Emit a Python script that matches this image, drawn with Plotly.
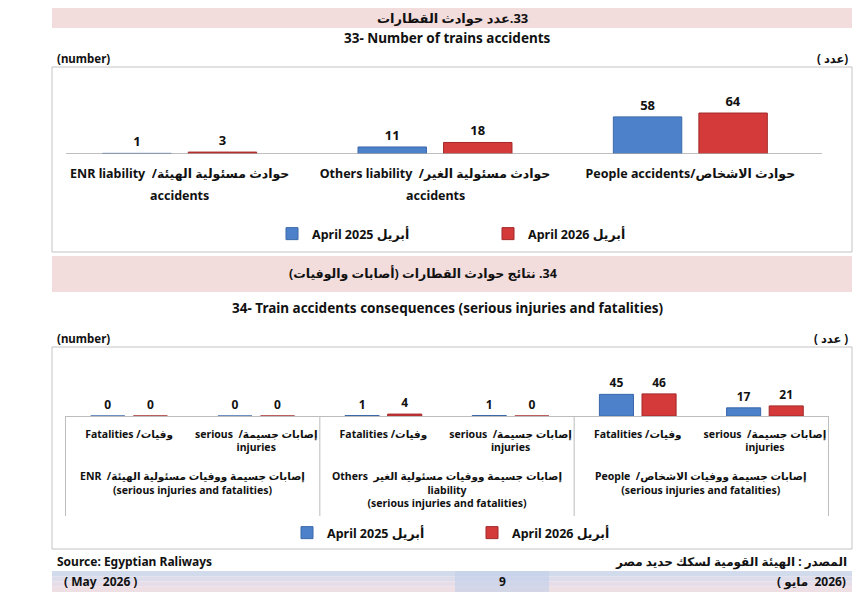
import plotly.graph_objects as go

# chart 33 - number of trains accidents
cats1 = ["enr", "others", "people"]
labels1 = ["ENR liability  /حوادث مسئولية الهيئة",
           "Others liability  /حوادث مسئولية الغير",
           "People accidents/حوادث الاشخاص"]
labels1_line2 = ["accidents", "accidents", ""]
apr2025_acc = [1, 11, 58]
apr2026_acc = [3, 18, 64]

# chart 34 - consequences (serious injuries and fatalities)
cats2 = ["enr_fat", "enr_inj", "oth_fat", "oth_inj", "ppl_fat", "ppl_inj"]
labels2 = ["Fatalities /وفيات", "serious  /إصابات جسيمة<br>injuries"] * 3
groups2 = ["ENR  /إصابات جسيمة ووفيات مسئولية الهيئة<br>(serious injuries and fatalities)",
           "Others  إصابات جسيمة ووفيات مسئولية الغير<br>liability<br>(serious injuries and fatalities)",
           "People  /إصابات جسيمة ووفيات الاشخاص<br>(serious injuries and fatalities)"]
apr2025_cons = [0, 0, 1, 1, 45, 17]
apr2026_cons = [0, 0, 4, 0, 46, 21]

series_names = ["April 2025 أبريل", "April 2026 أبريل"]

# the page body keeps an 8px margin, so the figure is laid out in page pixels minus that offset
OFF = 8
W, H = 866 - OFF, 592 - OFF
FONT = "Noto Sans, DejaVu Sans, sans-serif"
BLUE, BLUE_EDGE = "#4d82cb", "#3a68aa"
RED, RED_EDGE = "#d43a3a", "#a32828"
PINK = "#f2dcdc"
GRAY = "#c4c4c4"


def px(x):
    return (x - OFF) / W


def py(y):
    return min(1, 1 - (y - OFF) / H)


fig = go.Figure()

for vals, name, col, edge in [(apr2025_acc, series_names[0], BLUE, BLUE_EDGE),
                              (apr2026_acc, series_names[1], RED, RED_EDGE)]:
    fig.add_trace(go.Bar(x=cats1, y=vals, name=name, marker=dict(color=col, line=dict(color=edge, width=1)),
                         text=vals, textposition="outside", cliponaxis=False,
                         textfont=dict(size=13, color="#111", weight="bold"),
                         xaxis="x", yaxis="y", legend="legend"))

for vals, name, col, edge in [(apr2025_cons, series_names[0], BLUE, BLUE_EDGE),
                              (apr2026_cons, series_names[1], RED, RED_EDGE)]:
    fig.add_trace(go.Bar(x=cats2, y=vals, name=name, marker=dict(color=col, line=dict(color=edge, width=1)),
                         text=vals, textposition="outside", cliponaxis=False,
                         textfont=dict(size=12, color="#111", weight="bold"),
                         xaxis="x2", yaxis="y2", legend="legend2"))

shapes = []
annots = []


def rect(x0, y0, x1, y1, fill=None, line=None):
    shapes.append(dict(type="rect", xref="paper", yref="paper", x0=px(x0), x1=px(x1), y0=py(y1), y1=py(y0),
                       fillcolor=fill or "rgba(0,0,0,0)", line=dict(color=line or "rgba(0,0,0,0)", width=1),
                       layer="below"))


def label(x, y, s, size=12, anchor="center"):
    annots.append(dict(x=px(x), y=py(y), xref="paper", yref="paper", text=s, showarrow=False,
                       xanchor=anchor, yanchor="middle", font=dict(size=size, family=FONT, color="#111", weight="bold")))


# chart 33 frame
rect(52, 2, 852, 28, fill=PINK)
label(452, 18, "\u202b33.عدد حوادث القطارات\u202c", size=13)
label(448, 38, "33- Number of trains accidents", size=13.5)
label(55, 59, "(number)", size=11.5, anchor="left")
label(850, 59, "( عدد)", size=11.5, anchor="right")
rect(52, 67, 852, 252, line=GRAY)
shapes.append(dict(type="line", xref="paper", yref="y", x0=px(66), x1=px(822), y0=0, y1=0,
                   line=dict(color="#a8a8a8", width=1.5)))
for c, s in zip(cats1, labels1_line2):
    if s:
        annots.append(dict(x=c, y=py(195), xref="x", yref="paper", text=s, showarrow=False,
                           yanchor="middle", font=dict(size=12.5, family=FONT, color="#111", weight="bold")))

# chart 34 frame
rect(52, 256, 852, 292, fill=PINK)
label(423, 273, "\u202b34. نتائج حوادث القطارات (أصابات والوفيات)\u202c", size=12.5)
label(448, 308, "34- Train accidents consequences (serious injuries and fatalities)", size=13.5)
label(55, 338, "(number)", size=11.5, anchor="left")
label(850, 338, "( عدد )", size=11.5, anchor="right")
rect(52, 347, 852, 549, line=GRAY)
for xb in [-0.5, 1.5, 3.5, 5.5]:
    shapes.append(dict(type="line", xref="x2", yref="paper", x0=xb, x1=xb, y0=py(516), y1=py(416),
                       line=dict(color="#bdbdbd", width=1)))
for i, g in enumerate(groups2):
    annots.append(dict(x=2 * i + 0.5, y=py(475), xref="x2", yref="paper", text=g, showarrow=False,
                       yanchor="top", yshift=8, font=dict(size=10.5, family=FONT, color="#111", weight="bold")))

# footer
label(55, 561, "Source: Egyptian Raliways", size=12, anchor="left")
label(849, 561, "المصدر : الهيئة القومية لسكك حديد مصر", size=12, anchor="right")
for i, col in enumerate(["#d2dbec", "#dcdcea", "#e6dde8", "#eedfe5"]):
    rect(52, 571 + i * 5.25, 852, 571 + (i + 1) * 5.25, fill=col)
rect(455, 571, 549, 592, fill="rgba(190,206,234,0.55)")
label(62, 581, "( May  2026 )", size=12, anchor="left")
label(502, 581, "9", size=12)
label(848, 581, "( مايو  \u200e2026)", size=12, anchor="right")

fig.update_layout(
    width=W, height=H, margin=dict(l=0, r=0, t=0, b=0),
    paper_bgcolor="white", plot_bgcolor="rgba(0,0,0,0)",
    barmode="group", bargap=0.33, bargroupgap=0.2,
    font=dict(family=FONT, color="#111"),
    xaxis=dict(domain=[px(52), px(818)], tickvals=cats1, ticktext=labels1, showgrid=False, showline=False,
               ticks="", ticklabelstandoff=10, tickfont=dict(size=12.5, weight="bold"), fixedrange=True),
    yaxis=dict(domain=[py(154), py(74)], range=[0, 125], visible=False, fixedrange=True),
    xaxis2=dict(domain=[px(65), px(829)], tickvals=cats2, ticktext=labels2, showgrid=False,
                showline=True, linecolor="#bdbdbd", linewidth=1, ticks="", ticklabelstandoff=8,
                tickfont=dict(size=10.5, weight="bold"), anchor="y2", fixedrange=True),
    yaxis2=dict(domain=[py(416), py(366)], range=[0, 104], visible=False, anchor="x2", fixedrange=True),
    legend=dict(orientation="h", x=px(272), y=py(234), xanchor="left", yanchor="middle",
                entrywidth=171, entrywidthmode="pixels", itemwidth=30, bgcolor="rgba(0,0,0,0)",
                font=dict(size=12.5, weight="bold"), itemclick=False, itemdoubleclick=False),
    legend2=dict(orientation="h", x=px(287), y=py(533), xanchor="left", yanchor="middle",
                 entrywidth=140, entrywidthmode="pixels", itemwidth=30, bgcolor="rgba(0,0,0,0)",
                 font=dict(size=12.5, weight="bold"), itemclick=False, itemdoubleclick=False),
    shapes=shapes, annotations=annots,
)

fig.write_html("out.html")
